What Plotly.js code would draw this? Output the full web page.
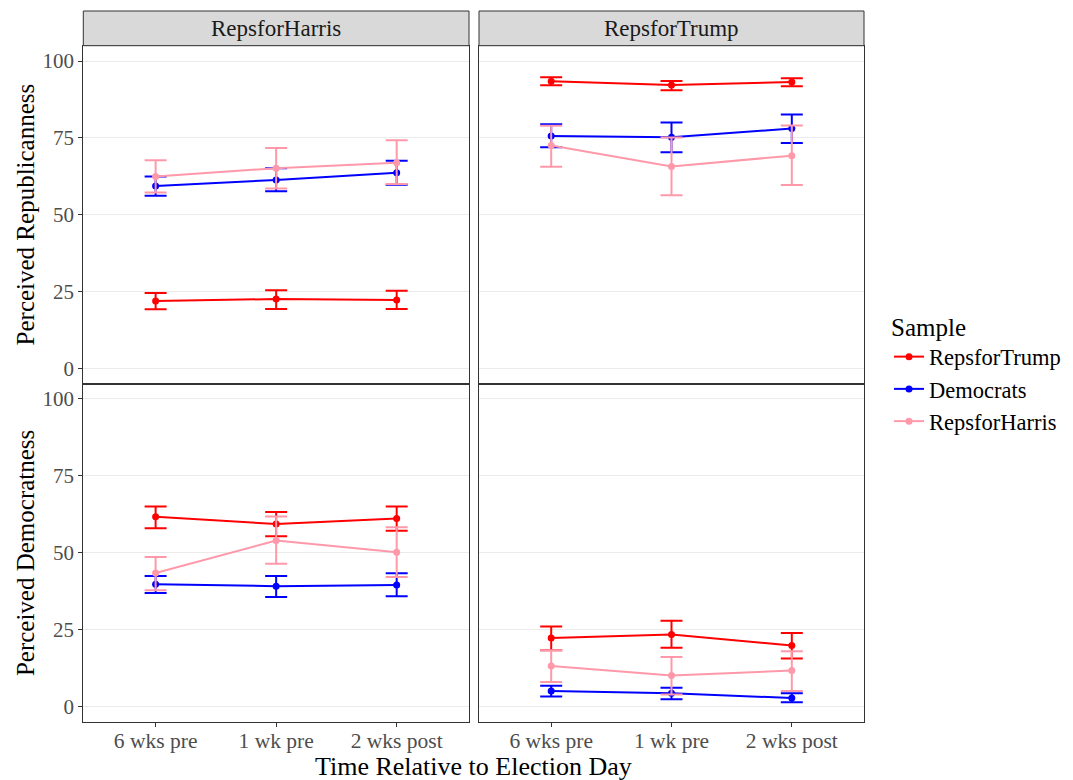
<!DOCTYPE html>
<html>
<head>
<meta charset="utf-8">
<script src="https://cdn.plot.ly/plotly-3.0.1.min.js"></script>
<style>html,body{margin:0;padding:0;background:#fff;}#chart{width:1073px;height:780px;}</style>
</head>
<body>
<div id="chart"></div>
<script>
// ---- data ----
const timepoints = ["6 wks pre", "1 wk pre", "2 wks post"];
const panels = ["RepsforHarris", "RepsforTrump"];
const samples = ["RepsforTrump", "Democrats", "RepsforHarris"];
const yTitles = ["Perceived Republicanness", "Perceived Democratness"];
const yTicks = [0, 25, 50, 75, 100];

// Perceived Republicanness, RepsforHarris panel
const repub_H_trump_mean = [21.9, 22.5, 22.2];
const repub_H_trump_lo   = [19.2, 19.3, 19.3];
const repub_H_trump_hi   = [24.5, 25.4, 25.2];
const repub_H_dem_mean   = [59.3, 61.3, 63.6];
const repub_H_dem_lo     = [56.1, 57.6, 59.7];
const repub_H_dem_hi     = [62.4, 65.1, 67.5];
const repub_H_harris_mean= [62.4, 65.1, 66.9];
const repub_H_harris_lo  = [57.2, 58.5, 60.0];
const repub_H_harris_hi  = [67.7, 71.7, 74.2];

// Perceived Republicanness, RepsforTrump panel
const repub_T_trump_mean = [93.4, 92.2, 93.2];
const repub_T_trump_lo   = [92.1, 90.5, 91.8];
const repub_T_trump_hi   = [94.7, 93.5, 94.4];
const repub_T_dem_mean   = [75.6, 75.2, 78.0];
const repub_T_dem_lo     = [71.9, 70.3, 73.3];
const repub_T_dem_hi     = [79.4, 80.0, 82.6];
const repub_T_harris_mean= [72.5, 65.7, 69.2];
const repub_T_harris_lo  = [65.6, 56.3, 59.6];
const repub_T_harris_hi  = [78.9, 75.1, 79.0];

// Perceived Democratness, RepsforHarris panel
const dem_H_trump_mean = [61.7, 59.4, 61.2];
const dem_H_trump_lo   = [58.0, 55.4, 57.2];
const dem_H_trump_hi   = [65.1, 63.3, 65.1];
const dem_H_dem_mean   = [39.8, 39.2, 39.6];
const dem_H_dem_lo     = [37.0, 35.7, 35.9];
const dem_H_dem_hi     = [42.5, 42.5, 43.4];
const dem_H_harris_mean= [43.5, 54.0, 50.2];
const dem_H_harris_lo  = [37.9, 46.5, 42.2];
const dem_H_harris_hi  = [48.7, 61.8, 58.3];

// Perceived Democratness, RepsforTrump panel
const dem_T_trump_mean = [22.4, 23.5, 19.9];
const dem_T_trump_lo   = [18.4, 19.2, 15.7];
const dem_T_trump_hi   = [26.1, 28.0, 24.0];
const dem_T_dem_mean   = [5.2, 4.4, 2.9];
const dem_T_dem_lo     = [3.4, 2.5, 1.5];
const dem_T_dem_hi     = [6.9, 6.2, 4.4];
const dem_T_harris_mean= [13.3, 10.2, 11.8];
const dem_T_harris_lo  = [8.1, 4.0, 5.2];
const dem_T_harris_hi  = [18.4, 16.2, 18.1];

// ---- styling ----
const colors = {"RepsforTrump": "#FF0000", "Democrats": "#0000FF", "RepsforHarris": "#FF99AA"};
const FONT = "Liberation Serif, Times New Roman, serif";

const panelData = [
  {ax: "", row: 0, col: 0, series: [
    [repub_H_trump_mean, repub_H_trump_lo, repub_H_trump_hi],
    [repub_H_dem_mean, repub_H_dem_lo, repub_H_dem_hi],
    [repub_H_harris_mean, repub_H_harris_lo, repub_H_harris_hi]]},
  {ax: "2", row: 0, col: 1, series: [
    [repub_T_trump_mean, repub_T_trump_lo, repub_T_trump_hi],
    [repub_T_dem_mean, repub_T_dem_lo, repub_T_dem_hi],
    [repub_T_harris_mean, repub_T_harris_lo, repub_T_harris_hi]]},
  {ax: "3", row: 1, col: 0, series: [
    [dem_H_trump_mean, dem_H_trump_lo, dem_H_trump_hi],
    [dem_H_dem_mean, dem_H_dem_lo, dem_H_dem_hi],
    [dem_H_harris_mean, dem_H_harris_lo, dem_H_harris_hi]]},
  {ax: "4", row: 1, col: 1, series: [
    [dem_T_trump_mean, dem_T_trump_lo, dem_T_trump_hi],
    [dem_T_dem_mean, dem_T_dem_lo, dem_T_dem_hi],
    [dem_T_harris_mean, dem_T_harris_lo, dem_T_harris_hi]]}
];

const W = 1073, H = 780;
const xDomains = [[83.3 / W, 469 / W], [479 / W, 864 / W]];
const mid = (780 - 383.5) / H;
const yDomains = [[mid, (780 - 45.7) / H], [(780 - 722.3) / H, mid]];
const stripTop = (780 - 11) / H;

const traces = [];
panelData.forEach((p, pi) => {
  p.series.forEach((s, si) => {
    const name = samples[si];
    const mean = s[0], lo = s[1], hi = s[2];
    traces.push({
      type: "scatter", mode: "lines+markers",
      x: timepoints, y: mean, name: name,
      legendgroup: name, showlegend: pi === 0,
      xaxis: "x" + p.ax, yaxis: "y" + p.ax,
      line: {color: colors[name], width: 2},
      marker: {color: colors[name], size: 7},
      error_y: {type: "data", symmetric: false,
        array: hi.map((v, i) => v - mean[i]),
        arrayminus: lo.map((v, i) => mean[i] - v),
        color: colors[name], thickness: 2, width: 11},
      hoverinfo: "x+y+name"
    });
  });
});

const layout = {
  width: W, height: H,
  margin: {l: 0, r: 0, t: 0, b: 0},
  paper_bgcolor: "#fff", plot_bgcolor: "#fff",
  font: {family: FONT, color: "#1A1A1A"},
  showlegend: true,
  legend: {
    x: 889 / W, xanchor: "left", y: (780 - 303) / H, yanchor: "top",
    title: {text: "Sample", font: {size: 25, family: FONT, color: "#000"}},
    font: {size: 22.5, family: FONT, color: "#000"},
    tracegroupgap: 0, itemwidth: 30, bgcolor: "rgba(0,0,0,0)"
  },
  shapes: [], annotations: []
};

panelData.forEach(p => {
  const xa = "xaxis" + p.ax, ya = "yaxis" + p.ax;
  const bottom = p.row === 1, left = p.col === 0;
  layout[xa] = {
    domain: xDomains[p.col], anchor: "y" + p.ax,
    type: "category", range: [-0.6, 2.6],
    showgrid: false, zeroline: false,
    showline: true, mirror: true, linecolor: "#333333", linewidth: 1,
    ticks: bottom ? "outside" : "", ticklen: 4, tickcolor: "#333333", tickwidth: 1,
    showticklabels: bottom, ticklabelstandoff: -5,
    tickfont: {size: 21.5, family: FONT, color: "#4D4D4D"},
    fixedrange: true
  };
  layout[ya] = {
    domain: yDomains[p.row], anchor: "x" + p.ax,
    range: [-5, 105], tickvals: yTicks, ticktext: yTicks.map(String),
    showgrid: true, gridcolor: "#EBEBEB", gridwidth: 1, zeroline: false,
    showline: true, mirror: true, linecolor: "#333333", linewidth: 1,
    ticks: left ? "outside" : "", ticklen: 4, tickcolor: "#333333", tickwidth: 1,
    showticklabels: left,
    tickfont: {size: 21, family: FONT, color: "#4D4D4D"},
    title: left ? {text: yTitles[p.row], font: {size: 25, family: FONT, color: "#000"}, standoff: 0} : {text: ""},
    fixedrange: true
  };
});

// facet strips
panels.forEach((name, ci) => {
  layout.shapes.push({
    type: "rect", xref: "paper", yref: "paper",
    x0: xDomains[ci][0], x1: xDomains[ci][1], y0: yDomains[0][1], y1: stripTop,
    fillcolor: "#D9D9D9", line: {color: "#333333", width: 1}, layer: "above"
  });
  layout.annotations.push({
    xref: "paper", yref: "paper",
    x: (xDomains[ci][0] + xDomains[ci][1]) / 2, y: (yDomains[0][1] + stripTop) / 2,
    xanchor: "center", yanchor: "middle", showarrow: false,
    text: name, font: {size: 23, family: FONT, color: "#1A1A1A"}
  });
});

// shared x-axis title
layout.annotations.push({
  xref: "paper", yref: "paper",
  x: (xDomains[0][0] + xDomains[1][1]) / 2, y: (780 - 766) / H,
  xanchor: "center", yanchor: "middle", showarrow: false,
  text: "Time Relative to Election Day", font: {size: 26, family: FONT, color: "#000"}
});

Plotly.newPlot("chart", traces, layout, {staticPlot: true, displayModeBar: false});
</script>
</body>
</html>
